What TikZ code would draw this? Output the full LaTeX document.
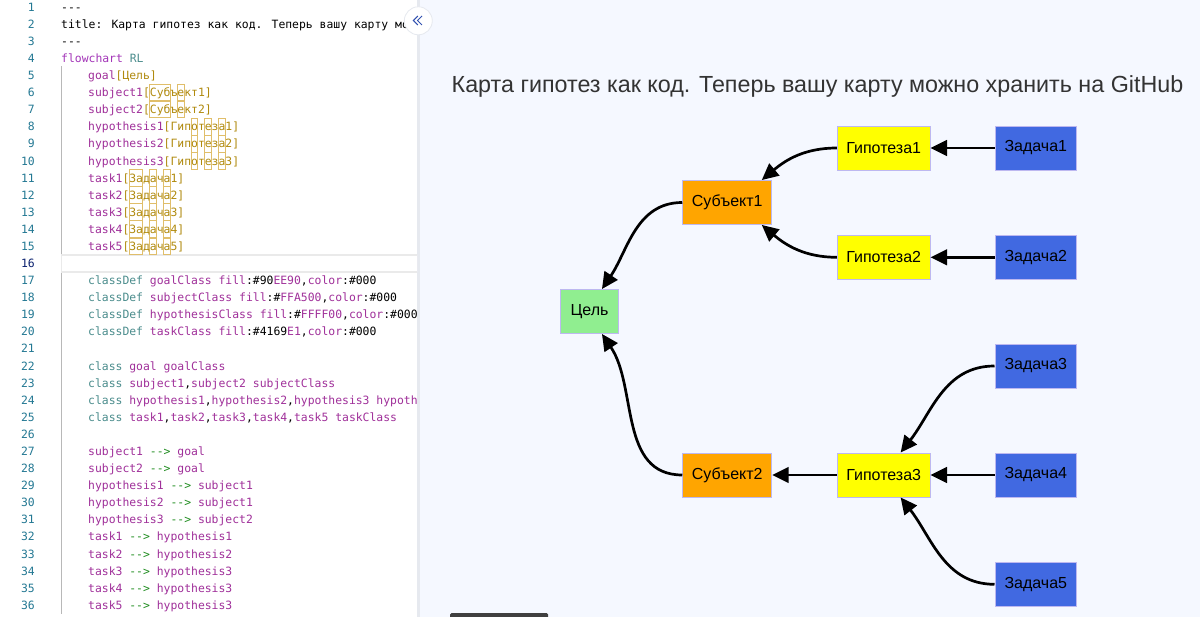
\documentclass[tikz,border=0pt]{standalone}
\usepackage{fontspec}
\setmainfont{Liberation Sans}
\newfontfamily\codefont{DejaVu Sans Mono}
\usetikzlibrary{arrows.meta}

\definecolor{lnumcol}{HTML}{237893}
\definecolor{lnumcur}{HTML}{0B216F}
\definecolor{kwcol}{HTML}{A335B8}
\definecolor{tealcol}{HTML}{4A8C8C}
\definecolor{idcol}{HTML}{A0309A}
\definecolor{lblcol}{HTML}{B08A0E}
\definecolor{arrcol}{HTML}{1E8C1E}
\definecolor{ambcol}{HTML}{E0BE6A}
\definecolor{panebg}{HTML}{F5F8FF}
\definecolor{panerule}{HTML}{E6E9EF}
\definecolor{guidecol}{HTML}{B8B8B8}
\definecolor{curcol}{HTML}{EAEAEA}
\definecolor{chevcol}{HTML}{3050B0}
\definecolor{titlecol}{HTML}{333333}
\definecolor{nodeborder}{HTML}{BDB8F0}
\definecolor{goalfill}{HTML}{90EE90}
\definecolor{subjfill}{HTML}{FFA500}
\definecolor{hypfill}{HTML}{FFFF00}
\definecolor{taskfill}{HTML}{4169E1}

% code tokens
\newcommand\kwd[1]{\textcolor{kwcol}{#1}}
\newcommand\tl[1]{\textcolor{tealcol}{#1}}
\newcommand\nid[1]{\textcolor{idcol}{#1}}
\newcommand\lbl[1]{\textcolor{lblcol}{#1}}
\newcommand\arrtok{\textcolor{arrcol}{-\kern0pt-\kern0pt>}}
\newcommand\dashes{-\kern0pt-\kern0pt-}
\newcommand\codeln[3]{\node[code] (cl#1) at (#2,{-(11.2+(#1-1)*17.09)}) {#3};}
\newcommand\ambbox[3]{\draw[amb] ({88+#2*6.86},{-(7+(#1-1)*17.09-8.3)})
  rectangle ({88+#3*6.86},{-(7+(#1-1)*17.09+8.3)});}

\begin{document}
\begin{tikzpicture}[x=1pt, y=1pt,
  code/.style={anchor=base west, inner sep=0pt, font=\codefont\fontsize{11.4}{13}\selectfont},
  lnum/.style={anchor=base east, inner sep=0pt, text=lnumcol, font=\codefont\fontsize{11.4}{13}\selectfont},
  amb/.style={draw=ambcol, line width=0.8pt},
  box/.style={draw=nodeborder, line width=0.9pt, minimum height=44pt, inner sep=0pt,
    font=\fontsize{16}{18}\selectfont},
  goalbox/.style={box, fill=goalfill, minimum width=57.6pt},
  subjbox/.style={box, fill=subjfill, minimum width=89pt},
  hypbox/.style={box, fill=hypfill, minimum width=92.7pt},
  taskbox/.style={box, fill=taskfill, minimum width=81.7pt},
  flow/.style={line width=2.7pt, -{Triangle[length=16.5pt,width=15.5pt]}}]
\useasboundingbox (0,0) rectangle (1200,-617);
\fill[white] (0,0) rectangle (418,-617);
\fill[panebg] (418,0) rectangle (1200,-617);
\fill[panerule] (417,0) rectangle (419.5,-617);

% editor
\begin{scope}
\clip (0,0) rectangle (417,-617);
\draw[guidecol, line width=0.8pt] (61,-66.5) -- (61,-614);
\draw[curcol, line width=1.6pt, fill=white] (61.5,-254.8) rectangle (418,-271.9);
\foreach \n in {1,...,15,17,18,...,36}
  \node[lnum] (ln\n) at (35,{-(11.2+(\n-1)*17.09)}) {\n};
\node[lnum, text=lnumcur] (ln16) at (35,{-(11.2+15*17.09)}) {16};
\foreach \l in {6,7}{\ambbox{\l}{9}{12}\ambbox{\l}{13}{14}}
\foreach \l in {8,9,10}{\ambbox{\l}{15}{16}\ambbox{\l}{17}{18}\ambbox{\l}{19}{20}}
\foreach \l in {11,...,15}{\ambbox{\l}{6}{8}\ambbox{\l}{9}{10}\ambbox{\l}{11}{12}}
\codeln{1}{61}{\dashes}
\codeln{2}{61}{title: Карта гипотез как код. Теперь вашу карту можно хранить на GitHub}
\codeln{3}{61}{\dashes}
\codeln{4}{61}{\kwd{flowchart} \tl{RL}}
\codeln{5}{88}{\nid{goal}\lbl{[Цель]}}
\codeln{6}{88}{\nid{subject1}\lbl{[Субъект1]}}
\codeln{7}{88}{\nid{subject2}\lbl{[Субъект2]}}
\codeln{8}{88}{\nid{hypothesis1}\lbl{[Гипотеза1]}}
\codeln{9}{88}{\nid{hypothesis2}\lbl{[Гипотеза2]}}
\codeln{10}{88}{\nid{hypothesis3}\lbl{[Гипотеза3]}}
\codeln{11}{88}{\nid{task1}\lbl{[Задача1]}}
\codeln{12}{88}{\nid{task2}\lbl{[Задача2]}}
\codeln{13}{88}{\nid{task3}\lbl{[Задача3]}}
\codeln{14}{88}{\nid{task4}\lbl{[Задача4]}}
\codeln{15}{88}{\nid{task5}\lbl{[Задача5]}}
\codeln{17}{88}{\tl{classDef} \nid{goalClass fill}:\#90\nid{EE90},\nid{color}:\#000}
\codeln{18}{88}{\tl{classDef} \nid{subjectClass fill}:\#\nid{FFA500},\nid{color}:\#000}
\codeln{19}{88}{\tl{classDef} \nid{hypothesisClass fill}:\#\nid{FFFF00},\nid{color}:\#000}
\codeln{20}{88}{\tl{classDef} \nid{taskClass fill}:\#4169\nid{E1},\nid{color}:\#000}
\codeln{22}{88}{\tl{class} \nid{goal goalClass}}
\codeln{23}{88}{\tl{class} \nid{subject1},\nid{subject2 subjectClass}}
\codeln{24}{88}{\tl{class} \nid{hypothesis1},\nid{hypothesis2},\nid{hypothesis3 hypothesisClass}}
\codeln{25}{88}{\tl{class} \nid{task1},\nid{task2},\nid{task3},\nid{task4},\nid{task5 taskClass}}
\codeln{27}{88}{\nid{subject1} \arrtok{} \nid{goal}}
\codeln{28}{88}{\nid{subject2} \arrtok{} \nid{goal}}
\codeln{29}{88}{\nid{hypothesis1} \arrtok{} \nid{subject1}}
\codeln{30}{88}{\nid{hypothesis2} \arrtok{} \nid{subject1}}
\codeln{31}{88}{\nid{hypothesis3} \arrtok{} \nid{subject2}}
\codeln{32}{88}{\nid{task1} \arrtok{} \nid{hypothesis1}}
\codeln{33}{88}{\nid{task2} \arrtok{} \nid{hypothesis2}}
\codeln{34}{88}{\nid{task3} \arrtok{} \nid{hypothesis3}}
\codeln{35}{88}{\nid{task4} \arrtok{} \nid{hypothesis3}}
\codeln{36}{88}{\nid{task5} \arrtok{} \nid{hypothesis3}}
\end{scope}

% collapse button
\node[circle, draw=panerule, line width=0.8pt, fill=white, minimum size=28pt, inner sep=0pt]
  (collapse) at (418.3,-20.8) {};
\draw[chevcol, line width=1pt] (417.8,-16) -- (413.3,-20.5) -- (417.8,-25);
\draw[chevcol, line width=1pt] (422,-16) -- (417.5,-20.5) -- (422,-25);
\fill[black!75, rounded corners=1.5pt] (450,-613) rectangle (548,-619);

% diagram
\node[text=titlecol, font=\fontsize{23.3}{26}\selectfont, anchor=base west, inner sep=0pt]
  (title) at (451.5,-92.3) {Карта гипотез как код. Теперь вашу карту можно хранить на GitHub};

\node[goalbox] (goal) at (589.5,-311.5) {Цель};
\node[subjbox] (subj1) at (727.2,-202.5) {Субъект1};
\node[subjbox] (subj2) at (727.2,-475) {Субъект2};
\node[hypbox] (hyp1) at (883.7,-148) {Гипотеза1};
\node[hypbox] (hyp2) at (883.7,-257.3) {Гипотеза2};
\node[hypbox] (hyp3) at (883.7,-475) {Гипотеза3};
\node[taskbox] (task1) at (1035.8,-148) {Задача1};
\node[taskbox] (task2) at (1035.8,-257.3) {Задача2};
\node[taskbox] (task3) at (1035.8,-366) {Задача3};
\node[taskbox] (task4) at (1035.8,-475) {Задача4};
\node[taskbox] (task5) at (1035.8,-584.3) {Задача5};

\draw[flow] (subj1.west) to[out=180, in=56] (goal.61);
\draw[flow] (subj2.west) to[out=180, in=-56] (goal.-61);
\draw[flow] (hyp1.west) to[out=180, in=40] (subj1.33);
\draw[flow] (hyp2.west) to[out=180, in=-40] (subj1.-33);
\draw[flow] (hyp3.west) -- (subj2.east);
\draw[flow] (task1.west) -- (hyp1.east);
\draw[flow] (task2.west) -- (hyp2.east);
\draw[flow] (task3.west) to[out=180, in=52] (hyp3.53);
\draw[flow] (task4.west) -- (hyp3.east);
\draw[flow] (task5.west) to[out=180, in=-52] (hyp3.-53);
\end{tikzpicture}
\end{document}
